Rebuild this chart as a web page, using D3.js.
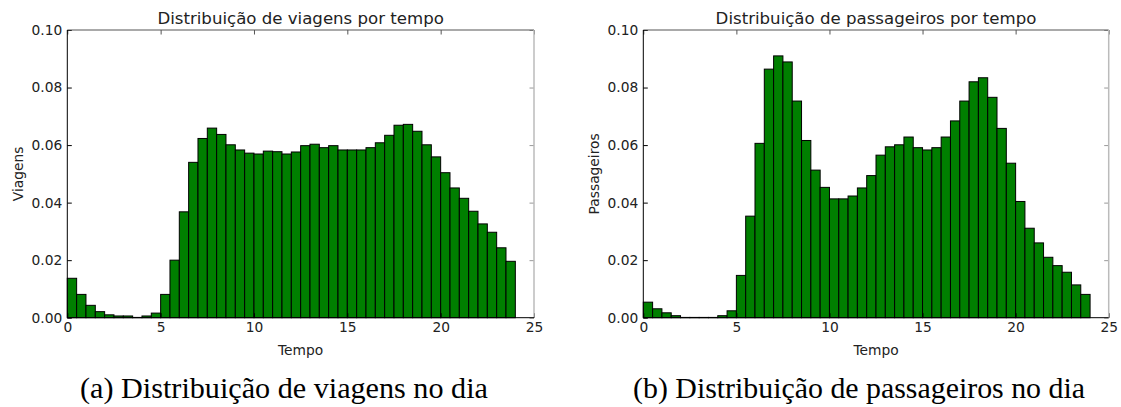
<!DOCTYPE html>
<html>
<head>
<meta charset="utf-8">
<script src="https://cdn.jsdelivr.net/npm/d3@7"></script>
<style>
  html, body { margin: 0; padding: 0; background: #fff; }
  svg { display: block; }
</style>
</head>
<body>
<svg id="fig" width="1121" height="407"></svg>
<script>
// Half-hour bins over the day (hours 0–24)
const binWidth = 0.5;
const binStarts = d3.range(0, 24, binWidth);

// Normalised share of trips per half-hour bin
const viagens = [
  0.0137, 0.0081, 0.0043, 0.0021, 0.0010, 0.0006, 0.0006, 0.0001,
  0.0006, 0.0016, 0.0081, 0.0200, 0.0368, 0.0540, 0.0623, 0.0659,
  0.0637, 0.0601, 0.0583, 0.0572, 0.0569, 0.0579, 0.0577, 0.0569,
  0.0576, 0.0598, 0.0603, 0.0591, 0.0598, 0.0583, 0.0583, 0.0583,
  0.0591, 0.0608, 0.0634, 0.0669, 0.0672, 0.0648, 0.0601, 0.0559,
  0.0504, 0.0451, 0.0415, 0.0370, 0.0326, 0.0297, 0.0243, 0.0196
];

// Normalised share of passengers per half-hour bin
const passageiros = [
  0.0054, 0.0031, 0.0017, 0.0007, 0.0001, 0.0001, 0.0001, 0.0001,
  0.0007, 0.0024, 0.0147, 0.0353, 0.0606, 0.0864, 0.0910, 0.0889,
  0.0753, 0.0616, 0.0513, 0.0453, 0.0413, 0.0413, 0.0423, 0.0451,
  0.0494, 0.0565, 0.0594, 0.0601, 0.0628, 0.0591, 0.0583, 0.0591,
  0.0628, 0.0684, 0.0753, 0.0820, 0.0834, 0.0766, 0.0658, 0.0537,
  0.0404, 0.0311, 0.0260, 0.0210, 0.0181, 0.0158, 0.0114, 0.0081
];

const xTicks = [0, 5, 10, 15, 20, 25];
const yTicks = [0.00, 0.02, 0.04, 0.06, 0.08, 0.10];

const panels = [
  { values: viagens, title: "Distribuição de viagens por tempo", ylabel: "Viagens",
    xlabel: "Tempo", caption: "(a) Distribuição de viagens no dia",
    left: 67.3, right: 534.0, capCenter: 284, capW: 408 },
  { values: passageiros, title: "Distribuição de passageiros por tempo", ylabel: "Passageiros",
    xlabel: "Tempo", caption: "(b) Distribuição de passageiros no dia",
    left: 643.3, right: 1108.7, capCenter: 859, capW: 452 }
];

const plotTop = 30, plotBottom = 317.7;
const svg = d3.select("#fig");
const font = "DejaVu Sans, sans-serif";
const tickFont = 13.8, titleFont = 16.6;

panels.forEach(p => {
  const x = d3.scaleLinear().domain([0, 25]).range([p.left, p.right]);
  const y = d3.scaleLinear().domain([0, 0.1]).range([plotBottom, plotTop]);
  const g = svg.append("g");

  // bars
  g.selectAll("rect.bar")
    .data(p.values)
    .join("rect")
    .attr("class", "bar")
    .attr("x", (d, i) => x(binStarts[i]))
    .attr("width", (d, i) => x(binStarts[i] + binWidth) - x(binStarts[i]))
    .attr("y", d => y(d))
    .attr("height", d => y(0) - y(d))
    .attr("fill", "#007f00")
    .attr("stroke", "#000")
    .attr("stroke-width", 1);

  // bottom axis with inward ticks
  const xAxis = g.append("g")
    .attr("transform", `translate(0,${plotBottom})`)
    .call(d3.axisBottom(x).tickValues(xTicks).tickFormat(d3.format("d")).tickSize(-4.5).tickPadding(5));
  xAxis.select(".domain").remove();
  xAxis.selectAll("line").attr("stroke", "#000");
  xAxis.selectAll("text").attr("font-family", font).attr("font-size", tickFont).attr("fill", "#222");

  // top axis ticks (no labels)
  const xTop = g.append("g")
    .attr("transform", `translate(0,${plotTop})`)
    .call(d3.axisTop(x).tickValues(xTicks).tickFormat("").tickSize(-4.5));
  xTop.select(".domain").remove();
  xTop.selectAll("line").attr("stroke", "#555");

  // left axis with inward ticks
  const yAxis = g.append("g")
    .attr("transform", `translate(${p.left},0)`)
    .call(d3.axisLeft(y).tickValues(yTicks).tickFormat(d3.format(".2f")).tickSize(-4.5).tickPadding(5));
  yAxis.select(".domain").remove();
  yAxis.selectAll("line").attr("stroke", "#000");
  yAxis.selectAll("text").attr("font-family", font).attr("font-size", tickFont).attr("fill", "#222");

  // right axis ticks (no labels)
  const yRight = g.append("g")
    .attr("transform", `translate(${p.right},0)`)
    .call(d3.axisRight(y).tickValues(yTicks).tickFormat("").tickSize(-4.5));
  yRight.select(".domain").remove();
  yRight.selectAll("line").attr("stroke", "#999");

  // frame
  g.append("line").attr("x1", p.left).attr("x2", p.right).attr("y1", plotTop).attr("y2", plotTop)
    .attr("stroke", "#555").attr("stroke-width", 1);
  g.append("line").attr("x1", p.right).attr("x2", p.right).attr("y1", plotTop).attr("y2", plotBottom)
    .attr("stroke", "#bbb").attr("stroke-width", 1.5);
  g.append("line").attr("x1", p.left).attr("x2", p.right).attr("y1", plotBottom).attr("y2", plotBottom)
    .attr("stroke", "#000").attr("stroke-width", 1);
  g.append("line").attr("x1", p.left).attr("x2", p.left).attr("y1", plotTop).attr("y2", plotBottom)
    .attr("stroke", "#000").attr("stroke-width", 1);

  // title
  g.append("text")
    .attr("x", (p.left + p.right) / 2).attr("y", 24)
    .attr("text-anchor", "middle")
    .attr("font-family", font).attr("font-size", titleFont).attr("fill", "#222")
    .text(p.title);

  // axis labels
  g.append("text")
    .attr("x", (p.left + p.right) / 2).attr("y", 355)
    .attr("text-anchor", "middle")
    .attr("font-family", font).attr("font-size", tickFont).attr("fill", "#222")
    .text(p.xlabel);
  g.append("text")
    .attr("transform", `translate(${p.left - 44},${(plotTop + plotBottom) / 2}) rotate(-90)`)
    .attr("text-anchor", "middle")
    .attr("font-family", font).attr("font-size", tickFont).attr("fill", "#222")
    .text(p.ylabel);

  // sub-figure caption, sized so its natural width fills the caption span
  const cap = g.append("text")
    .attr("x", p.capCenter).attr("y", 398)
    .attr("text-anchor", "middle")
    .attr("font-family", "Liberation Serif, DejaVu Serif, serif").attr("font-size", 26).attr("fill", "#000")
    .text(p.caption);
  const natural = cap.node().getComputedTextLength();
  cap.attr("font-size", 26 * p.capW / natural);
});
</script>
</body>
</html>
